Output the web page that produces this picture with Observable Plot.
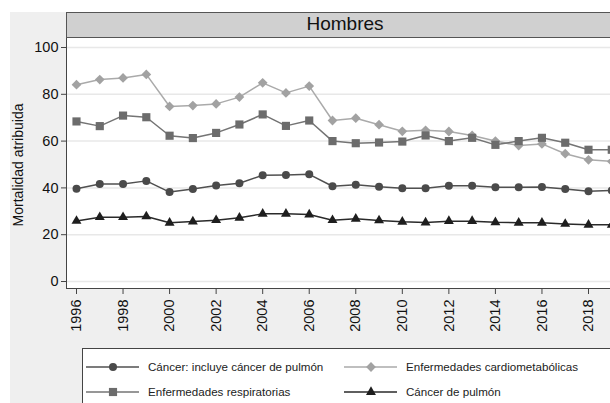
<!DOCTYPE html>
<html><head><meta charset="utf-8">
<script src="https://cdn.jsdelivr.net/npm/d3@7"></script>
<script src="https://cdn.jsdelivr.net/npm/@observablehq/plot@0.6"></script>
<style>
body{margin:0;background:#fff;font-family:"Liberation Sans",Arial,sans-serif;}
#wrap{position:relative;width:610px;height:403px;overflow:hidden;background:#fff;}
#panel{position:absolute;left:10px;top:12px;width:620px;height:420px;background:#efefef;}
#plotbg{position:absolute;left:66px;top:37px;width:560px;height:251px;background:#fff;border-left:1.5px solid #444;border-bottom:1.5px solid #444;}
#strip{position:absolute;left:66px;top:12px;width:560px;height:24px;background:#d0d0d0;border:1.5px solid #555;box-sizing:content-box;}
#strip span{position:absolute;left:0;width:556px;top:0px;text-align:center;font-size:19px;color:#111;}
#chart{position:absolute;left:0;top:0;}
#ytitle{position:absolute;left:18px;top:165px;transform:translate(-50%,-50%) rotate(-90deg);font-size:14px;color:#111;white-space:nowrap;}
#legend{position:absolute;left:82px;top:348px;width:560px;height:80px;background:#fff;border:1px solid #444;}
.li{position:absolute;height:16px;font-size:11.6px;color:#222;white-space:nowrap;}
.li svg{position:absolute;left:0;top:0;}
.li span{position:absolute;top:1px;}
</style></head><body>
<div id="wrap">
 <div id="panel"></div>
 <div id="plotbg"></div>
 <div id="strip"><span>Hombres</span></div>
 <div id="chart"></div>
 <div id="ytitle">Mortalidad atribuida</div>
 <div id="legend"></div>
</div>
<script>
const years = [1996,1997,1998,1999,2000,2001,2002,2003,2004,2005,2006,2007,2008,2009,2010,2011,2012,2013,2014,2015,2016,2017,2018,2019];
const cancer = [39.6,41.7,41.7,43.0,38.2,39.5,41.0,42.0,45.4,45.5,45.8,40.7,41.3,40.5,39.9,39.9,40.9,40.9,40.3,40.3,40.4,39.5,38.6,38.9];
const cardio = [84.1,86.3,87.0,88.5,74.8,75.2,75.9,78.8,84.9,80.6,83.5,68.8,69.8,67.0,64.2,64.6,64.1,62.4,60.0,58.1,58.8,54.6,52.0,51.3];
const respir = [68.4,66.4,70.9,70.2,62.3,61.3,63.5,67.1,71.4,66.5,68.8,60.0,59.1,59.4,59.8,62.4,60.0,61.4,58.4,60.0,61.4,59.3,56.3,56.3];
const lung   = [25.9,27.5,27.5,27.8,25.1,25.6,26.2,27.2,28.9,28.9,28.6,26.2,26.8,26.1,25.5,25.2,25.8,25.8,25.3,25.1,25.1,24.6,24.2,24.2];
const seriesNames = ["Cáncer: incluye cáncer de pulmón","Enfermedades cardiometabólicas","Enfermedades respiratorias","Cáncer de pulmón"];
const yTicks = [0,20,40,60,80,100];
const xTicks = [1996,1998,2000,2002,2004,2006,2008,2010,2012,2014,2016,2018];

const styles = {
  "Enfermedades cardiometabólicas": {line:"#aaaaaa", fill:"#a2a2a2", symbol:"diamond2", r:4.4},
  "Enfermedades respiratorias": {line:"#747474", fill:"#6c6c6c", symbol:"square", r:4.6},
  "Cáncer: incluye cáncer de pulmón": {line:"#505050", fill:"#4a4a4a", symbol:"circle", r:4.0},
  "Cáncer de pulmón": {line:"#2a2a2a", fill:"#1e1e1e", symbol:"triangle", r:3.7}
};
const values = {
  "Cáncer: incluye cáncer de pulmón": cancer,
  "Enfermedades cardiometabólicas": cardio,
  "Enfermedades respiratorias": respir,
  "Cáncer de pulmón": lung
};
const drawOrder = ["Enfermedades cardiometabólicas","Enfermedades respiratorias","Cáncer: incluye cáncer de pulmón","Cáncer de pulmón"];

const marks = [
  Plot.gridY(yTicks, {stroke:"#e8e8e8", strokeOpacity:1, strokeWidth:1.5}),
  Plot.axisY(yTicks, {tickSize:6, tickPadding:3, stroke:"#444", fill:"#111", fontSize:14.5, label:null}),
  Plot.axisX(xTicks, {tickSize:5, tickPadding:5, tickRotate:-90, stroke:"#444", fill:"#111", fontSize:14.5, tickFormat:d=>String(d), label:null})
];
for (const name of drawOrder) {
  const data = years.map((yr,i)=>({year:yr, value:values[name][i]}));
  const s = styles[name];
  marks.push(Plot.line(data, {x:"year", y:"value", stroke:s.line, strokeWidth:1.5}));
  marks.push(Plot.dot(data, {x:"year", y:"value", symbol:()=>s.symbol, fill:s.fill, stroke:"none", r:s.r}));
}

const chart = Plot.plot({
  width:610, height:403,
  marginLeft:67, marginRight:0, marginTop:38, marginBottom:114,
  style:{background:"transparent", fontFamily:"'Liberation Sans', Arial, sans-serif", overflow:"hidden"},
  x:{domain:[1996,2018], range:[76,588], axis:null},
  y:{domain:[0,100], range:[281,47], axis:null},
  symbol:{type:"identity"},
  marks
});
document.getElementById("chart").appendChild(chart);

// legend
const legend = document.getElementById("legend");
const legendPos = [
  {name:"Cáncer: incluye cáncer de pulmón", x:3, y:10},
  {name:"Enfermedades cardiometabólicas", x:261, y:10},
  {name:"Enfermedades respiratorias", x:3, y:35},
  {name:"Cáncer de pulmón", x:261, y:35}
];
for (const p of legendPos) {
  const s = styles[p.name];
  const div = document.createElement("div");
  div.className = "li";
  div.style.left = p.x + "px"; div.style.top = p.y + "px";
  const svg = d3.create("svg").attr("width",56).attr("height",16);
  svg.append("line").attr("x1",0).attr("x2",53).attr("y1",8).attr("y2",8).attr("stroke",s.line).attr("stroke-width",1.5);
  const symMap = {circle:d3.symbolCircle, square:d3.symbolSquare, diamond2:d3.symbolDiamond2, triangle:d3.symbolTriangle};
  svg.append("path").attr("transform","translate(27,8)").attr("d", d3.symbol(symMap[s.symbol], Math.PI*s.r*s.r)()).attr("fill",s.fill);
  div.appendChild(svg.node());
  const sp = document.createElement("span");
  sp.style.left = "62px";
  sp.textContent = p.name;
  div.appendChild(sp);
  legend.appendChild(div);
}
</script>
</body></html>
